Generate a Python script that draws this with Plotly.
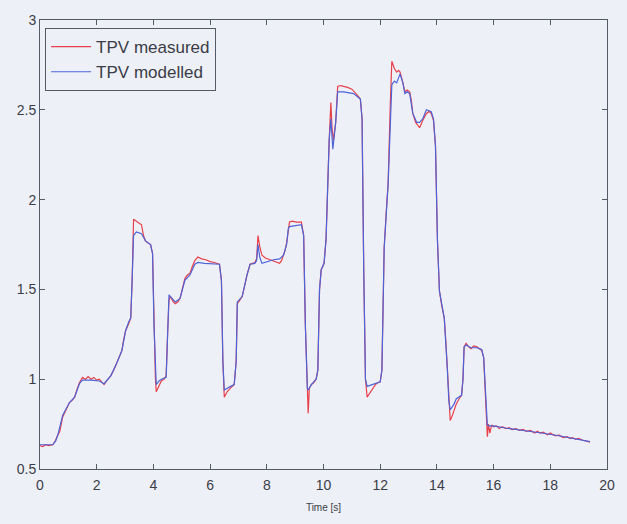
import plotly.graph_objects as go

# TPV measured (time in s, value)
t_measured = [
    0.0, 0.1, 0.2, 0.3, 0.45, 0.55, 0.63, 0.7, 0.8, 0.9, 1.04, 1.15, 1.22, 1.3, 1.39, 1.5,
    1.6, 1.7, 1.8, 1.9, 2.0, 2.09, 2.18, 2.26, 2.35, 2.5, 2.6, 2.71, 2.8, 2.89, 2.95, 3.02,
    3.13, 3.2, 3.25, 3.3, 3.4, 3.5, 3.58, 3.65, 3.72, 3.8, 3.9, 3.97, 4.02, 4.07, 4.1, 4.2,
    4.28, 4.38, 4.45, 4.5, 4.55, 4.6, 4.7, 4.77, 4.86, 4.94, 5.05, 5.11, 5.2, 5.29, 5.38,
    5.46, 5.57, 5.7, 5.85, 6.0, 6.15, 6.33, 6.4, 6.45, 6.5, 6.6, 6.72, 6.85, 6.92, 6.96,
    7.05, 7.13, 7.22, 7.3, 7.41, 7.5, 7.58, 7.64, 7.69, 7.75, 7.83, 7.95, 8.1, 8.24, 8.35,
    8.45, 8.52, 8.59, 8.65, 8.7, 8.76, 8.8, 8.9, 9.05, 9.22, 9.3, 9.36, 9.43, 9.46, 9.5,
    9.57, 9.65, 9.74, 9.8, 9.86, 9.92, 10.02, 10.09, 10.15, 10.2, 10.26, 10.3, 10.35, 10.43,
    10.5, 10.6, 10.71, 10.85, 11.0, 11.1, 11.2, 11.3, 11.36, 11.42, 11.48, 11.54, 11.62,
    11.72, 11.83, 11.92, 12.0, 12.06, 12.14, 12.22, 12.28, 12.35, 12.41, 12.5, 12.58, 12.65,
    12.7, 12.8, 12.87, 12.95, 13.04, 13.1, 13.15, 13.25, 13.39, 13.5, 13.63, 13.72, 13.8,
    13.88, 13.95, 14.02, 14.09, 14.17, 14.26, 14.32, 14.37, 14.42, 14.47, 14.55, 14.68,
    14.78, 14.87, 14.92, 14.96, 15.03, 15.12, 15.2, 15.3, 15.41, 15.5, 15.58, 15.65, 15.72,
    15.78, 15.82, 15.87, 15.93, 16.0, 16.1, 16.2, 16.3, 16.45, 16.55, 16.65, 16.8, 16.9,
    17.04, 17.15, 17.3, 17.45, 17.55, 17.63, 17.75, 17.9, 18.0, 18.1, 18.2, 18.3, 18.45,
    18.6, 18.7, 18.78, 18.9, 19.0, 19.15, 19.3, 19.4,
]
v_measured = [
    0.63, 0.625, 0.635, 0.63, 0.635, 0.66, 0.69, 0.71, 0.79, 0.82, 0.87, 0.885, 0.90, 0.94, 0.98, 1.01,
    1.0, 1.015, 1.0, 1.01, 0.995, 1.0, 0.985, 0.97, 0.99, 1.02, 1.05, 1.09, 1.12, 1.16, 1.22, 1.27,
    1.31, 1.34, 1.55, 1.89, 1.88, 1.87, 1.86, 1.80, 1.77, 1.76, 1.75, 1.70, 1.30, 1.01, 0.93, 0.96,
    0.99, 1.0, 1.02, 1.25, 1.44, 1.46, 1.43, 1.42, 1.43, 1.45, 1.53, 1.56, 1.58, 1.59, 1.63,
    1.66, 1.68, 1.67, 1.665, 1.655, 1.65, 1.64, 1.55, 1.10, 0.90, 0.93, 0.95, 0.97, 1.10, 1.42,
    1.44, 1.46, 1.52, 1.58, 1.64, 1.645, 1.65, 1.67, 1.80, 1.74, 1.69, 1.675, 1.665, 1.655, 1.65,
    1.645, 1.66, 1.69, 1.72, 1.76, 1.85, 1.875, 1.88, 1.875, 1.875, 1.80, 1.30, 0.98, 0.81, 0.95,
    0.97, 0.98, 1.0, 1.05, 1.50, 1.61, 1.645, 1.78, 2.10, 2.33, 2.54, 2.40, 2.33, 2.43,
    2.63, 2.635, 2.63, 2.625, 2.615, 2.60, 2.58, 2.56, 2.45, 1.60, 1.0, 0.90, 0.92,
    0.95, 0.97, 0.98, 0.985, 1.05, 1.73, 1.95, 2.09, 2.50, 2.77, 2.73, 2.71, 2.72,
    2.71, 2.65, 2.60, 2.61, 2.60, 2.55, 2.48, 2.43, 2.40, 2.44, 2.48, 2.49, 2.48,
    2.44, 2.30, 1.77, 1.49, 1.41, 1.34, 1.20, 1.05, 0.85, 0.77, 0.80, 0.86,
    0.89, 0.91, 1.0, 1.18, 1.20, 1.18, 1.17, 1.185, 1.18, 1.17, 1.16, 1.12, 0.90,
    0.68, 0.75, 0.70, 0.745, 0.735, 0.74, 0.725, 0.735, 0.725, 0.73, 0.72, 0.725, 0.715,
    0.72, 0.71, 0.715, 0.70, 0.71, 0.70, 0.705, 0.69, 0.70, 0.69, 0.685, 0.69, 0.675,
    0.68, 0.67, 0.675, 0.665, 0.67, 0.66, 0.655, 0.65,
]

# TPV modelled (time in s, value)
t_modelled = [
    0.0, 0.45, 0.55, 0.63, 0.8, 1.04, 1.22, 1.39, 1.5, 1.8, 2.09, 2.26, 2.5, 2.71, 2.89, 3.02,
    3.13, 3.2, 3.25, 3.3, 3.4, 3.58, 3.65, 3.72, 3.9, 3.97, 4.02, 4.07, 4.1, 4.2, 4.28, 4.45,
    4.5, 4.55, 4.6, 4.7, 4.77, 4.86, 4.94, 5.11, 5.29, 5.46, 5.57, 5.8, 6.33, 6.4, 6.45, 6.5,
    6.6, 6.72, 6.85, 6.92, 6.96, 7.13, 7.3, 7.41, 7.58, 7.64, 7.69, 7.75, 7.83, 7.95, 8.1,
    8.24, 8.45, 8.59, 8.7, 8.76, 8.8, 9.22, 9.3, 9.36, 9.43, 9.46, 9.57, 9.74, 9.8, 9.86,
    9.92, 10.02, 10.09, 10.15, 10.2, 10.26, 10.33, 10.43, 10.5, 10.71, 11.06, 11.3, 11.36,
    11.42, 11.48, 11.54, 11.72, 11.83, 12.0, 12.06, 12.14, 12.28, 12.35, 12.41, 12.5, 12.58,
    12.7, 12.8, 12.87, 12.95, 13.04, 13.15, 13.29, 13.39, 13.5, 13.63, 13.8, 13.88, 13.95,
    14.02, 14.09, 14.26, 14.37, 14.42, 14.47, 14.6, 14.68, 14.87, 14.92, 14.96, 15.03, 15.2,
    15.41, 15.58, 15.65, 15.72, 15.78, 15.85, 16.0, 16.45, 17.04, 17.63, 18.2, 18.78, 19.4,
]
v_modelled = [
    0.635, 0.635, 0.655, 0.69, 0.80, 0.87, 0.90, 0.975, 0.995, 0.995, 0.99, 0.975, 1.02, 1.09, 1.16, 1.27,
    1.32, 1.34, 1.55, 1.80, 1.82, 1.81, 1.79, 1.77, 1.75, 1.70, 1.30, 1.02, 0.97, 0.99, 1.0, 1.01,
    1.25, 1.47, 1.46, 1.44, 1.43, 1.44, 1.45, 1.55, 1.58, 1.64, 1.65, 1.645, 1.64, 1.55, 1.10, 0.94,
    0.95, 0.96, 0.97, 1.10, 1.43, 1.46, 1.58, 1.64, 1.645, 1.66, 1.75, 1.68, 1.645, 1.65, 1.66,
    1.665, 1.67, 1.69, 1.75, 1.84, 1.85, 1.86, 1.80, 1.30, 0.95, 0.94, 0.97, 1.0, 1.05, 1.50,
    1.61, 1.645, 1.78, 2.10, 2.33, 2.45, 2.28, 2.43, 2.60, 2.60, 2.59, 2.56, 2.45,
    1.60, 1.0, 0.96, 0.97, 0.98, 0.985, 1.05, 1.73, 2.09, 2.45, 2.64, 2.66, 2.65,
    2.70, 2.65, 2.59, 2.60, 2.59, 2.48, 2.43, 2.43, 2.45, 2.50, 2.49, 2.45, 2.30,
    1.77, 1.49, 1.34, 1.05, 0.88, 0.83, 0.86, 0.89, 0.91, 1.0, 1.18, 1.19, 1.175,
    1.175, 1.165, 1.12, 0.90, 0.745, 0.74, 0.74, 0.727, 0.716, 0.702, 0.688, 0.672, 0.652,
]

x_ticks = [0, 2, 4, 6, 8, 10, 12, 14, 16, 18, 20]
y_ticks = [0.5, 1, 1.5, 2, 2.5, 3]
y_tick_labels = ["0.5", "1", "1.5", "2", "2.5", "3"]

BG = "#eef0f8"
AXIS = "#555a66"
TEXT = "#3a3d46"
FONT = "Liberation Sans, Arial, Helvetica, sans-serif"

fig = go.Figure()
fig.add_trace(go.Scatter(
    x=t_measured, y=v_measured, mode="lines", name="TPV measured",
    line=dict(color="#e8404a", width=1.2),
))
fig.add_trace(go.Scatter(
    x=t_modelled, y=v_modelled, mode="lines", name="TPV modelled",
    line=dict(color="#4d63d8", width=1.2),
))

axis_common = dict(
    showgrid=False, zeroline=False, showline=True, linecolor=AXIS, linewidth=1,
    mirror="ticks", ticks="inside", ticklen=5, tickcolor=AXIS,
    tickfont=dict(family=FONT, size=14, color=TEXT),
)

fig.update_layout(
    width=627, height=524,
    margin=dict(l=40, r=12, t=15, b=53),
    paper_bgcolor=BG, plot_bgcolor=BG,
    font=dict(family=FONT, color=TEXT),
    xaxis=dict(
        range=[0, 20], tickvals=x_ticks, ticktext=[str(v) for v in x_ticks],
        ticklabelstandoff=3,
        title=dict(text="Time [s]", font=dict(size=10, family=FONT), standoff=12),
        **axis_common,
    ),
    yaxis=dict(
        range=[0.5, 3], tickvals=y_ticks, ticktext=y_tick_labels,
        **axis_common,
    ),
    legend=dict(
        x=0.009, y=0.982, xanchor="left", yanchor="top",
        bgcolor=BG, bordercolor=AXIS, borderwidth=1,
        font=dict(family=FONT, size=17, color=TEXT),
        itemwidth=40, tracegroupgap=0,
    ),
    showlegend=True,
)

fig.write_html("out.html")
